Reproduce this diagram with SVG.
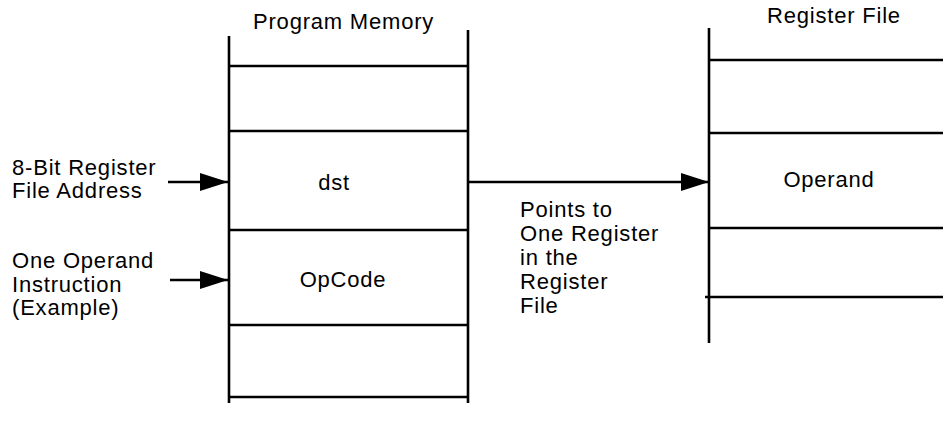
<svg xmlns="http://www.w3.org/2000/svg" width="943" height="431" viewBox="0 0 943 431">
<style>
text{font-family:"Liberation Sans",Arial,sans-serif;font-size:22px;letter-spacing:0.8px;fill:#000}
line{stroke:#000;stroke-width:2.6;fill:none}
</style>
<defs>
<marker id="ah" markerWidth="28" markerHeight="18" viewBox="0 0 28 18" refX="28" refY="9" orient="auto" markerUnits="userSpaceOnUse">
<path d="M0,0 L28,9 L0,18 Z" fill="#000"/>
</marker>
</defs>
<rect width="943" height="431" fill="#fff"/>
<g id="program-memory">
<text x="253" y="29">Program Memory</text>
<line x1="229" y1="36" x2="229" y2="403"/>
<line x1="468" y1="30" x2="468" y2="403"/>
<line x1="229" y1="66" x2="468" y2="66"/>
<line x1="229" y1="131" x2="468" y2="131"/>
<line x1="229" y1="230" x2="468" y2="230"/>
<line x1="229" y1="325" x2="468" y2="325"/>
<line x1="229" y1="397" x2="468" y2="397"/>
<text x="334" y="190" text-anchor="middle">dst</text>
<text x="343" y="287" text-anchor="middle">OpCode</text>
</g>
<g id="register-file">
<text x="767" y="23">Register File</text>
<line x1="709" y1="28" x2="709" y2="343"/>
<line x1="709" y1="60" x2="943" y2="60"/>
<line x1="709" y1="133" x2="943" y2="133"/>
<line x1="709" y1="228" x2="943" y2="228"/>
<line x1="705" y1="297" x2="943" y2="297"/>
<text x="829" y="187" text-anchor="middle">Operand</text>
</g>
<g id="label-address">
<text x="12" y="175">8-Bit Register</text>
<text x="12" y="198">File Address</text>
</g>
<g id="label-instruction">
<text x="12" y="268">One Operand</text>
<text x="12" y="292">Instruction</text>
<text x="12" y="315">(Example)</text>
</g>
<g id="label-points">
<text x="520" y="217">Points to</text>
<text x="520" y="241">One Register</text>
<text x="520" y="265">in the</text>
<text x="520" y="289">Register</text>
<text x="520" y="313">File</text>
</g>
<g id="connectors">
<line x1="468" y1="182" x2="709" y2="182" marker-end="url(#ah)"/>
<line x1="168" y1="182" x2="228" y2="182" marker-end="url(#ah)"/>
<line x1="170" y1="280" x2="228" y2="280" marker-end="url(#ah)"/>
</g>
</svg>
